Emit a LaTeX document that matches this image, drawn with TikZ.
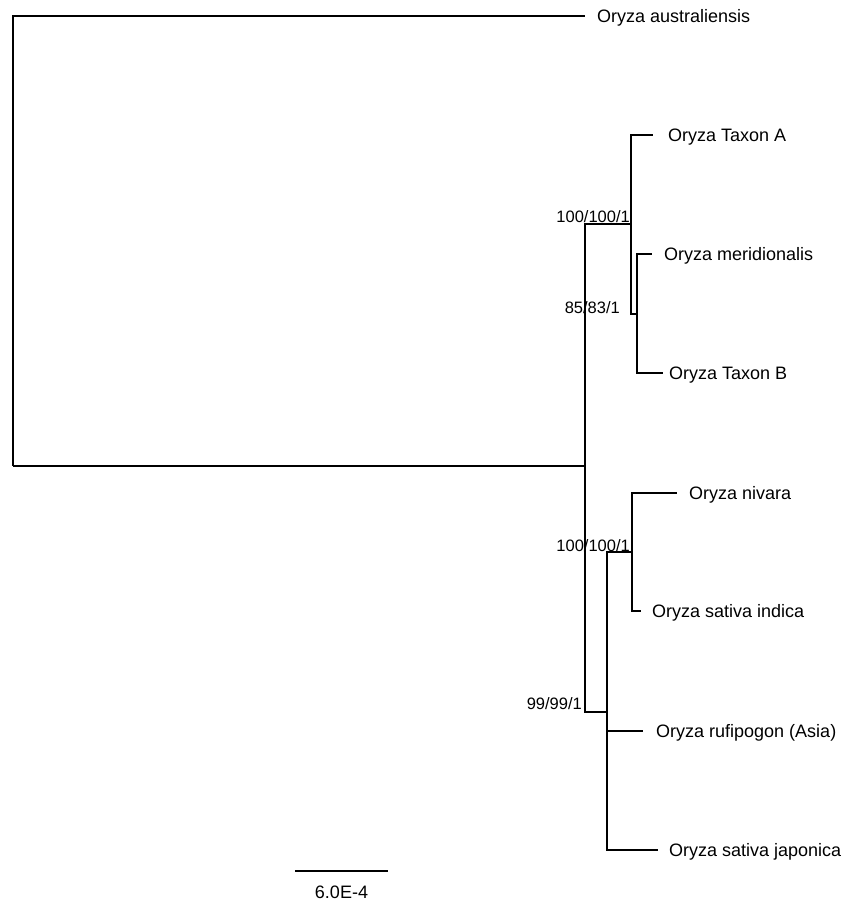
\documentclass[tikz,border=0pt]{standalone}
\usepackage{fontspec}
\setmainfont{Liberation Sans}
\usepackage{tikz}
\usetikzlibrary{positioning}

\tikzset{
  branch/.style={line width=1.6pt, line join=miter},
  taxon/.style={font=\fontsize{18}{20}\selectfont, inner sep=0pt, text height=12.9pt, text depth=0pt},
  support/.style={font=\fontsize{16.5}{18}\selectfont, inner sep=0pt},
  scalelbl/.style={font=\fontsize{18}{20}\selectfont, inner sep=0pt, text height=12.9pt, text depth=0pt}
}

\begin{document}
\begin{tikzpicture}[x=1pt,y=-1pt] %pixel units
    \useasboundingbox (0,0) rectangle (859,902);
    % inner nodes
    \coordinate (root) at (13,466);
    \coordinate (n1) at (585,466);
    \coordinate (n2) at (631,224);
    \coordinate (n3) at (637,314);
    \coordinate (n4) at (607,712);
    \coordinate (n5) at (632,552);
    % tips
    \coordinate (tAus) at (585,16);
    \coordinate (tA) at (653,135);
    \coordinate (tM) at (652,254);
    \coordinate (tB) at (663,373);
    \coordinate (tN) at (677,493);
    \coordinate (tI) at (641,611);
    \coordinate (tR) at (643,731);
    \coordinate (tJ) at (658,850);
    \node [taxon, right=12pt of tAus] (lAus) {Oryza australiensis};
    \node [taxon, right=15pt of tA] (lA) {Oryza Taxon A};
    \node [taxon, right=12pt of tM] (lM) {Oryza meridionalis};
    \node [taxon, right=6pt of tB] (lB) {Oryza Taxon B};
    \node [taxon, right=12pt of tN] (lN) {Oryza nivara};
    \node [taxon, right=11pt of tI] (lI) {Oryza sativa indica};
    \node [taxon, right=13pt of tR] (lR) {Oryza rufipogon (Asia)};
    \node [taxon, right=11pt of tJ] (lJ) {Oryza sativa japonica};
    % support values
    \node [support, above left=1.5pt and 1pt of n2] (s2) {100/100/1};
    \node [support, above left=0pt and 17pt of n3] (s3) {85/83/1};
    \node [support, above left=0.5pt and 2pt of n5] (s5) {100/100/1};
    \node [support, above left=2pt and 25pt of n4] (s4) {99/99/1};
    % branches
    \draw [branch] (root) |- (tAus);
    \draw [branch] (root) -- (n1);
    \draw [branch] (n1) |- (n2);
    \draw [branch] (n1) |- (n4);
    \draw [branch] (n2) |- (tA);
    \draw [branch] (n2) |- (n3);
    \draw [branch] (n3) |- (tM);
    \draw [branch] (n3) |- (tB);
    \draw [branch] (n4) |- (n5);
    \draw [branch] (n4) |- (tR);
    \draw [branch] (n4) |- (tJ);
    \draw [branch] (n5) |- (tN);
    \draw [branch] (n5) |- (tI);
    % scale bar
    \coordinate (sb1) at (295,871);
    \coordinate (sb2) at (388,871);
    \draw [branch] (sb1) -- (sb2);
    \node [scalelbl] (sbl) at (341.5,892) {6.0E-4};
\end{tikzpicture}
\end{document}
